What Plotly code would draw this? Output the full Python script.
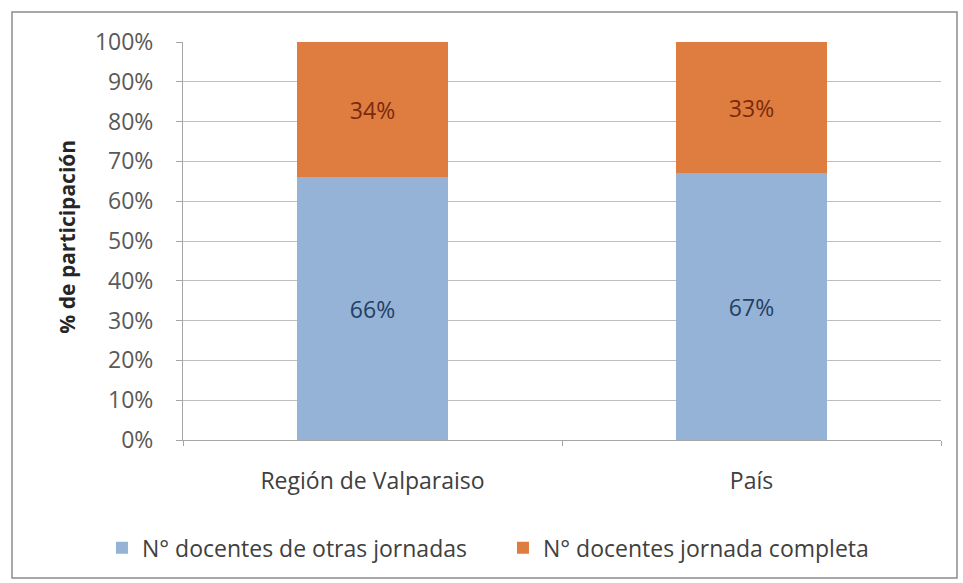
import plotly.graph_objects as go

categories = ["Región de Valparaiso", "País"]
otras_jornadas = [66, 67]
jornada_completa = [34, 33]
series_names = ["N° docentes de otras jornadas", "N° docentes jornada completa"]
y_ticks = [0, 10, 20, 30, 40, 50, 60, 70, 80, 90, 100]
y_tick_labels = [f"{v}%" for v in y_ticks]

FONT = "'Open Sans', sans-serif"

fig = go.Figure()
fig.add_trace(go.Bar(
    x=categories, y=otras_jornadas, name=series_names[0],
    marker=dict(color="#94B3D6", line=dict(width=0)),
    text=[f"{v}%" for v in otras_jornadas], textposition="inside",
    insidetextanchor="middle",
    textfont=dict(color="#253F64", size=23, family=FONT),
))
fig.add_trace(go.Bar(
    x=categories, y=jornada_completa, name=series_names[1],
    marker=dict(color="#DF7C3F", line=dict(width=0)),
    text=[f"{v}%" for v in jornada_completa], textposition="inside",
    insidetextanchor="middle",
    textfont=dict(color="#7A2A0C", size=23, family=FONT),
))

fig.update_layout(
    barmode="stack",
    bargap=0.604,
    width=963, height=583,
    margin=dict(l=183, r=22, t=42, b=143),
    paper_bgcolor="white", plot_bgcolor="white",
    font=dict(family=FONT, color="#404040", size=23),
    showlegend=True,
    legend=dict(orientation="h", x=-0.1069, xanchor="left", y=-0.271, yanchor="middle",
                font=dict(size=23, color="#404040", family=FONT),
                itemwidth=30, entrywidth=356, entrywidthmode="pixels",
                traceorder="normal"),
    xaxis=dict(showgrid=False, showline=True, linecolor="#A6A6A6", linewidth=1,
               ticks="outside", tickson="boundaries", ticklen=5, tickcolor="#A6A6A6",
               ticklabelstandoff=20,
               tickfont=dict(size=23, color="#404040", family=FONT)),
    yaxis=dict(range=[0, 100], tickvals=y_ticks, ticktext=y_tick_labels,
               showgrid=True, gridcolor="#BEBEBE", gridwidth=1,
               showline=True, linecolor="#A6A6A6", linewidth=1,
               ticks="outside", ticklen=6, tickcolor="#A6A6A6",
               ticklabelstandoff=18,
               tickfont=dict(size=23, color="#595959", family=FONT)),
)

fig.add_annotation(text="<b>% de participación</b>", xref="paper", yref="paper",
                   x=-0.153, y=0.511, xanchor="center", yanchor="middle",
                   textangle=-90, showarrow=False,
                   font=dict(size=21, color="#262626", family=FONT))

fig.add_shape(type="rect", xref="paper", yref="paper",
              x0=-0.2256, x1=1.0211, y0=-0.3467, y1=1.0754,
              line=dict(color="#8C8C8C", width=1.5), fillcolor="rgba(0,0,0,0)", layer="below")

fig.write_html("out.html", config={"displayModeBar": False},
               post_script="document.body.style.margin='0';")
